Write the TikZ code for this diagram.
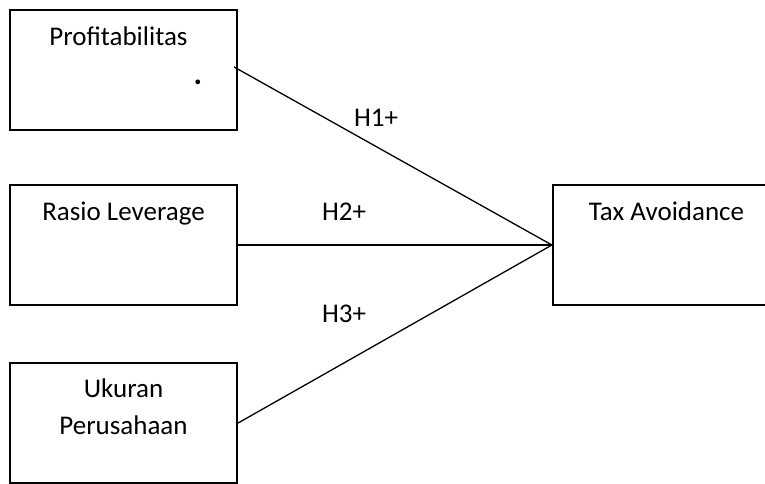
\documentclass[tikz,border=0pt]{standalone}
\usepackage{fontspec}
\setmainfont{Carlito}
\usepackage{tikz}
\usetikzlibrary{positioning}

\begin{document}
\begin{tikzpicture}[x=1pt,y=1pt]
\tikzset{varbox/.style={draw,line width=2.2pt,minimum width=227pt,minimum height=120pt,inner sep=0pt},
 lbl/.style={anchor=base,inner sep=0pt,font=\fontsize{27}{37}\selectfont,align=center},
 link/.style={line width=1.3pt}}
\useasboundingbox (0,0) rectangle (765,483);
\clip (0,0) rectangle (765,483);
% variabel
\node[varbox] (prof) at (123.5,413) {};
\node[varbox] (lev) at (123.5,238) {};
\node[varbox] (size) at (123.5,60) {};
\node[varbox] (tax) at (666.5,238) {};
\node[lbl] (proft) at ([xshift=-5pt,yshift=-37pt]prof.north) {Profitabilitas};
\node[lbl,font=\fontsize{32}{37}\bfseries] (dot) at (198,399) {.};
\node[lbl] (levt) at ([yshift=-37pt]lev.north) {Rasio Leverage};
\node[lbl,anchor=north,yshift=20pt] (sizet) at ([yshift=-37pt]size.north) {Ukuran\\Perusahaan};
\node[lbl] (taxt) at ([yshift=-37pt]tax.north) {Tax Avoidance};
% hipotesis
\draw[link] ([shift={(-4pt,3pt)}]prof.east) -- (tax.west);
\draw[link] (lev.east) -- (tax.west);
\draw[link] (size.east) -- (tax.west);
\node[lbl] (h1) at (376,356) {H1+};
\node[lbl] (h2) at (344,263) {H2+};
\node[lbl] (h3) at (344,161) {H3+};
\end{tikzpicture}
\end{document}
